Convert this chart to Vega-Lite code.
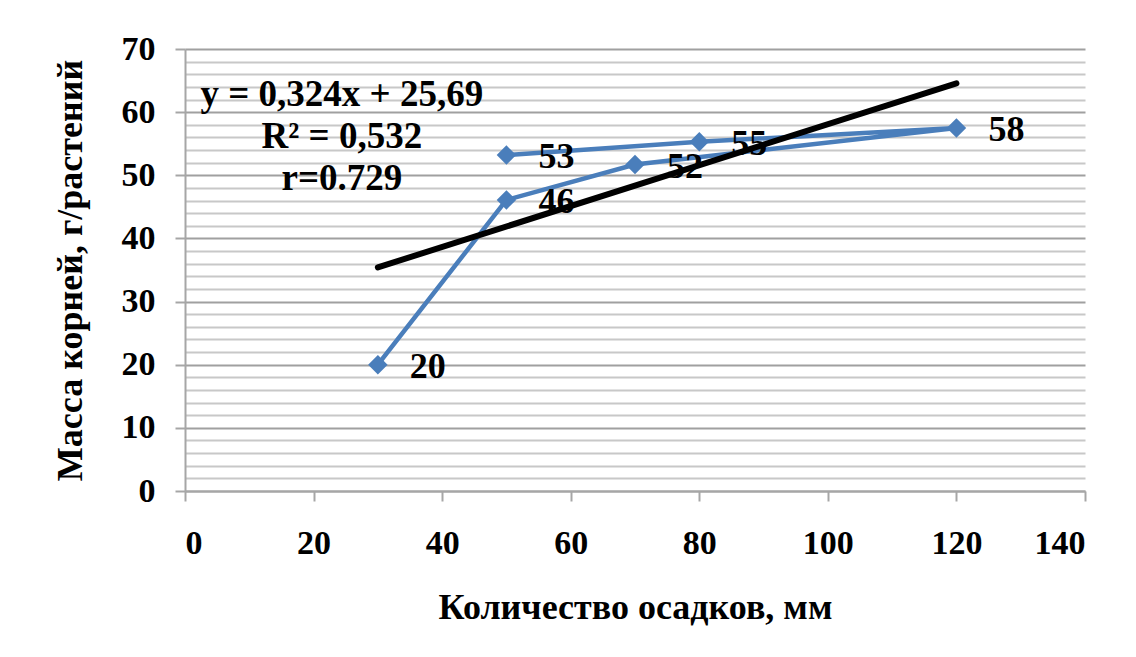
{
  "$schema": "https://vega.github.io/schema/vega-lite/v6.json",
  "width": 900,
  "height": 442,
  "autosize": {"type": "none"},
  "padding": {"left": 185, "top": 49, "right": 51, "bottom": 166},
  "background": "white",
  "config": {
    "view": {"stroke": null},
    "font": "Liberation Serif"
  },
  "datasets": {
    "series": [
      {"order": 1, "x": 30, "y": 20},
      {"order": 2, "x": 50, "y": 46.1},
      {"order": 3, "x": 70, "y": 51.7},
      {"order": 4, "x": 120, "y": 57.5},
      {"order": 5, "x": 80, "y": 55.3},
      {"order": 6, "x": 50, "y": 53.2}
    ],
    "trend": [
      {"x": 30, "y": 35.41},
      {"x": 120, "y": 64.57}
    ],
    "notes": [
      {"x": 24.4, "y": 62.7, "text": "y = 0,324x + 25,69"},
      {"x": 24.4, "y": 56.0, "text": "R² = 0,532"},
      {"x": 24.4, "y": 49.4, "text": "r=0.729"}
    ]
  },
  "layer": [
    {
      "data": {"name": "series"},
      "mark": {"type": "line", "color": "#4a7ebb", "strokeWidth": 4.5},
      "encoding": {
        "x": {
          "field": "x", "type": "quantitative",
          "scale": {"domain": [0, 140], "nice": false},
          "axis": {
            "values": [0, 20, 40, 60, 80, 100, 120, 140],
            "tickCount": 8,
            "grid": false,
            "title": "Количество осадков, мм",
            "titleFont": "Liberation Serif", "titleFontSize": 36, "titleFontWeight": "bold", "titleColor": "black",
            "titlePadding": 30,
            "labelFont": "Liberation Serif", "labelFontSize": 34, "labelFontWeight": "bold", "labelColor": "black",
            "labelPadding": 25,
            "labelOverlap": false,
            "domainColor": "#a6a6a6", "domainWidth": 2,
            "tickColor": "#a6a6a6", "tickWidth": 2, "tickSize": 10
          }
        },
        "y": {
          "field": "y", "type": "quantitative",
          "scale": {"domain": [0, 70], "nice": false},
          "axis": {
            "values": [0,2,4,6,8,10,12,14,16,18,20,22,24,26,28,30,32,34,36,38,40,42,44,46,48,50,52,54,56,58,60,62,64,66,68,70],
            "tickCount": 40,
            "labelOverlap": false,
            "labelExpr": "datum.value % 10 == 0 ? datum.label : ''",
            "grid": true,
            "gridColor": {"condition": {"test": "datum.value % 10 == 0", "value": "#a0a0a0"}, "value": "#c8c8c8"},
            "gridWidth": 2,
            "title": "Масса корней, г/растений",
            "titleFont": "Liberation Serif", "titleFontSize": 36, "titleFontWeight": "bold", "titleColor": "black",
            "titlePadding": 32,
            "labelFont": "Liberation Serif", "labelFontSize": 34, "labelFontWeight": "bold", "labelColor": "black",
            "labelPadding": 20,
            "domainColor": "#a6a6a6", "domainWidth": 2,
            "tickColor": "#a6a6a6", "tickWidth": 2, "tickSize": 10,
            "tickOpacity": {"condition": {"test": "datum.value % 10 == 0", "value": 1}, "value": 0}
          }
        },
        "order": {"field": "order", "type": "quantitative"}
      }
    },
    {
      "data": {"name": "series"},
      "mark": {"type": "point", "shape": "diamond", "filled": true, "color": "#4a7ebb", "opacity": 1, "size": 380},
      "encoding": {
        "x": {"field": "x", "type": "quantitative"},
        "y": {"field": "y", "type": "quantitative"}
      }
    },
    {
      "data": {"name": "trend"},
      "mark": {"type": "line", "color": "black", "strokeWidth": 6, "strokeCap": "round"},
      "encoding": {
        "x": {"field": "x", "type": "quantitative"},
        "y": {"field": "y", "type": "quantitative"}
      }
    },
    {
      "data": {"name": "series"},
      "mark": {"type": "text", "font": "Liberation Serif", "fontSize": 36, "fontWeight": "bold", "color": "black", "dx": 50, "dy": 2, "align": "center", "baseline": "middle"},
      "encoding": {
        "x": {"field": "x", "type": "quantitative"},
        "y": {"field": "y", "type": "quantitative"},
        "text": {"field": "y", "type": "quantitative", "format": ".0f"}
      }
    },
    {
      "data": {"name": "notes"},
      "mark": {"type": "text", "font": "Liberation Serif", "fontSize": 37, "fontWeight": "bold", "color": "black", "align": "center", "baseline": "middle"},
      "encoding": {
        "x": {"field": "x", "type": "quantitative"},
        "y": {"field": "y", "type": "quantitative"},
        "text": {"field": "text", "type": "nominal"}
      }
    }
  ]
}
